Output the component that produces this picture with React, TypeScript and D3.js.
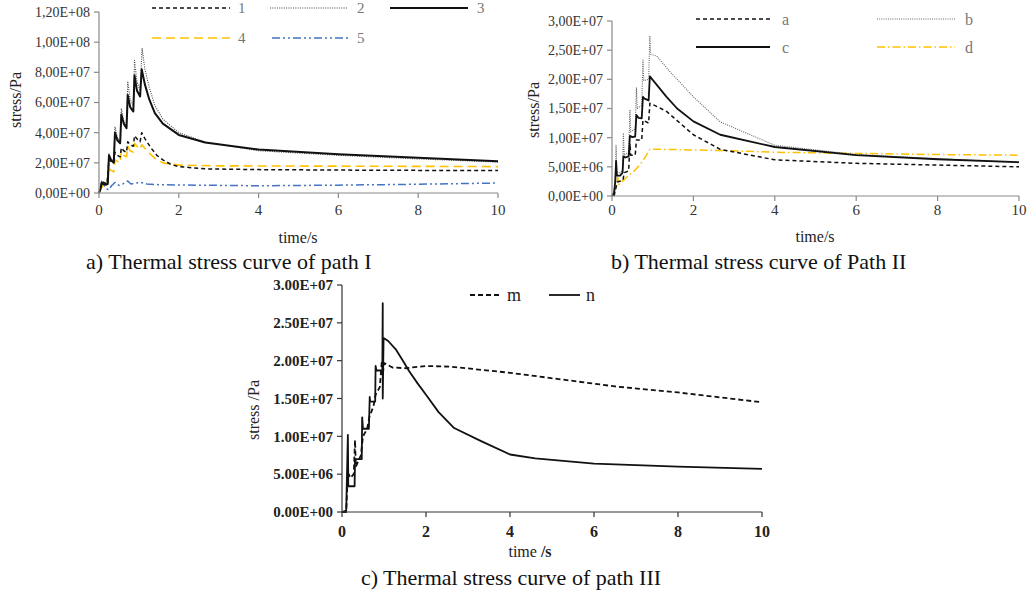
import React from "react";
import * as d3 from "d3";

type P = [number, number];

// ---------- Panel a data (path I) ----------
const aS1: P[] = [[0,0],[0.05,4e6],[0.07,8e6],[0.12,7e6],[0.2,6e6],[0.25,22e6],[0.3,21e6],[0.37,20e6],[0.4,27e6],[0.46,25e6],[0.53,24e6],[0.56,30e6],[0.62,28e6],[0.69,27e6],[0.72,34e6],[0.78,32e6],[0.86,31e6],[0.89,38e6],[0.95,36e6],[1.03,34e6],[1.07,40e6],[1.15,36e6],[1.3,30e6],[1.45,25e6],[1.6,22e6],[1.8,19e6],[2,17.5e6],[2.66,16e6],[4,15.5e6],[6,15.2e6],[8,15e6],[10,15e6]];
const aS2: P[] = [[0,0],[0.04,3e6],[0.07,8e6],[0.1,6.5e6],[0.2,6e6],[0.25,26e6],[0.3,23e6],[0.37,21e6],[0.4,44e6],[0.46,37e6],[0.53,34e6],[0.56,56e6],[0.62,48e6],[0.69,45e6],[0.72,74e6],[0.78,62e6],[0.86,58e6],[0.89,88e6],[0.95,74e6],[1.03,68e6],[1.08,96e6],[1.15,82e6],[1.26,70e6],[1.4,58e6],[1.6,49e6],[2,40e6],[2.66,33.8e6],[4,28e6],[6,25e6],[8,22.6e6],[10,20.5e6]];
const aS3: P[] = [[0,0],[0.04,3e6],[0.07,7e6],[0.1,6e6],[0.18,5.5e6],[0.22,6e6],[0.25,25e6],[0.3,22e6],[0.37,20e6],[0.4,40e6],[0.46,35e6],[0.53,33e6],[0.56,52e6],[0.62,46e6],[0.69,43e6],[0.72,65e6],[0.78,57e6],[0.86,54e6],[0.89,78e6],[0.95,68e6],[1.03,64e6],[1.07,82e6],[1.15,72e6],[1.26,62e6],[1.4,53e6],[1.6,46e6],[2,38.5e6],[2.66,33.5e6],[4,28.8e6],[6,25.7e6],[8,23.3e6],[10,21e6]];
const aS4: P[] = [[0,0],[0.05,3e6],[0.1,5e6],[0.2,5e6],[0.25,16e6],[0.3,15e6],[0.37,14e6],[0.4,22e6],[0.46,21e6],[0.53,20e6],[0.56,28e6],[0.62,25e6],[0.69,24e6],[0.72,31e6],[0.78,28e6],[0.86,27e6],[0.89,33e6],[0.95,31e6],[1.03,29e6],[1.07,32e6],[1.2,28e6],[1.4,23e6],[1.6,20e6],[2,18.5e6],[3,18e6],[6,17.8e6],[10,17.5e6]];
const aS5: P[] = [[0,0],[0.05,3e6],[0.1,6e6],[0.18,3e6],[0.25,2e6],[0.32,5e6],[0.4,7e6],[0.5,5e6],[0.6,6e6],[0.72,8e6],[0.8,6e6],[0.9,6.5e6],[1.05,7e6],[1.2,6e6],[1.5,5.5e6],[2,5.3e6],[4,4.8e6],[6,5.2e6],[8,5.8e6],[10,6.6e6]];
const aYTicks = [0, 2e7, 4e7, 6e7, 8e7, 1e8, 1.2e8];
const xTicks = [0, 2, 4, 6, 8, 10];

// ---------- Panel b data (path II) ----------
const bA: P[] = [[0.05,0],[0.1,1.5e6],[0.13,2.4e6],[0.27,2.7e6],[0.3,4e6],[0.41,4.3e6],[0.44,9e6],[0.46,7e6],[0.57,7e6],[0.6,9.6e6],[0.73,9.6e6],[0.76,13e6],[0.9,12.5e6],[0.93,15.9e6],[1.06,15.5e6],[1.34,14.5e6],[2,10.5e6],[2.66,8e6],[4,6.2e6],[6,5.6e6],[8,5.3e6],[10,5e6]];
const bB: P[] = [[0,0],[0.05,0.5e6],[0.08,2.5e6],[0.1,8.7e6],[0.12,4e6],[0.2,4e6],[0.26,4.5e6],[0.28,10.8e6],[0.3,7e6],[0.41,7.5e6],[0.44,14.7e6],[0.46,11e6],[0.57,11.5e6],[0.6,18.6e6],[0.62,15e6],[0.73,15.5e6],[0.76,23.3e6],[0.78,19.8e6],[0.9,20e6],[0.93,27.5e6],[0.95,24.3e6],[1.1,24e6],[1.4,21.5e6],[2,17e6],[2.66,12.7e6],[4,8.7e6],[6,7.1e6],[8,6.4e6],[10,5.7e6]];
const bC: P[] = [[0,0],[0.05,0.5e6],[0.08,2.5e6],[0.1,6e6],[0.12,3.5e6],[0.2,3.5e6],[0.26,4e6],[0.28,6.8e6],[0.33,6.6e6],[0.41,6.8e6],[0.44,10.3e6],[0.5,10.1e6],[0.57,10.2e6],[0.6,13.9e6],[0.65,13.4e6],[0.73,13.3e6],[0.76,17e6],[0.8,16.7e6],[0.9,16.4e6],[0.93,20.5e6],[1.06,19.4e6],[1.34,17e6],[1.6,15e6],[2,12.8e6],[2.66,10.5e6],[4,8.4e6],[6,7e6],[8,6.3e6],[10,5.8e6]];
const bD: P[] = [[0,0],[0.05,0.3e6],[0.1,1.5e6],[0.14,3.2e6],[0.17,2e6],[0.25,2.5e6],[0.3,2.8e6],[0.4,3.5e6],[0.55,4.3e6],[0.7,5.5e6],[0.8,6.5e6],[0.93,8e6],[1.2,8e6],[2,7.9e6],[2.66,7.8e6],[4,7.5e6],[6,7.3e6],[8,7.1e6],[10,7e6]];
const bYTicks = [0, 5e6, 1e7, 1.5e7, 2e7, 2.5e7, 3e7];

// ---------- Panel c data (path III) ----------
const cM: P[] = [[0,0],[0.1,0],[0.13,4e6],[0.16,5e6],[0.2,4.5e6],[0.28,5e6],[0.31,9.5e6],[0.33,6e6],[0.45,7.5e6],[0.5,10e6],[0.6,11e6],[0.65,12.5e6],[0.75,14e6],[0.8,15.5e6],[0.9,16.5e6],[0.95,20e6],[0.97,18e6],[1.0,19.7e6],[1.2,19.1e6],[1.5,19e6],[2,19.3e6],[2.6,19.2e6],[4,18.4e6],[6.5,16.6e6],[8,15.8e6],[10,14.5e6]];
const cN: P[] = [[0,0],[0.1,0.2e6],[0.14,10.2e6],[0.15,3.4e6],[0.3,3.4e6],[0.31,7e6],[0.47,7e6],[0.48,12.5e6],[0.5,11e6],[0.64,11e6],[0.66,15.2e6],[0.67,14.6e6],[0.79,14.6e6],[0.8,19.3e6],[0.82,18.7e6],[0.96,18.7e6],[0.97,27.6e6],[0.97,15e6],[0.99,23e6],[1.1,22.6e6],[1.28,21.5e6],[1.45,20e6],[1.6,18.6e6],[1.8,17e6],[2,15.5e6],[2.3,13.2e6],[2.67,11.1e6],[3.3,9.4e6],[4,7.6e6],[4.6,7.1e6],[6,6.4e6],[8,6e6],[10,5.7e6]];
const cYTicks = [0, 5e6, 1e7, 1.5e7, 2e7, 2.5e7, 3e7];

const FONT = "'Liberation Serif', 'Times New Roman', serif";

function fmtSci(v: number, sep: string) {
  const s = v.toExponential(2);
  const [m, e] = s.split("e");
  const sign = e[0] === "-" ? "-" : "+";
  const ex = Math.abs(parseInt(e, 10)).toString().padStart(2, "0");
  return m.replace(".", sep) + "E" + sign + ex;
}

interface Series {
  data: P[];
  color: string;
  width: number;
  dash?: string;
}
interface LegendItem {
  label: string;
  x1: number;
  x2: number;
  y: number;
  tx: number;
  s: Series;
}
interface PanelCfg {
  x0: number; x1: number; y0: number; y1: number;
  yMax: number; yTicks: number[];
  sep: string;
  series: Series[];
  axisColor: string;
  tickFont: number; tickBold: boolean; tickColor: string;
  tickLabelY: number;
  yLabel: string; yLabelX: number; yLabelY: number; yLabelSize: number;
  xLabel: React.ReactNode; xLabelX: number; xLabelY: number; xLabelSize: number;
  legend: LegendItem[]; legendColor: string; legendSize: number;
}

function Panel({ c }: { c: PanelCfg }) {
  const x = d3.scaleLinear().domain([0, 10]).range([c.x0, c.x1]);
  const y = d3.scaleLinear().domain([0, c.yMax]).range([c.y1, c.y0]);
  const line = d3.line<P>().x((d) => x(d[0])).y((d) => y(d[1]));
  return (
    <g fontFamily={FONT}>
      {c.series.map((s, i) => (
        <path key={i} d={line(s.data) || ""} fill="none" stroke={s.color} strokeWidth={s.width} strokeDasharray={s.dash} strokeLinejoin="round" />
      ))}
      <line x1={c.x0} x2={c.x0} y1={c.y0} y2={c.y1} stroke={c.axisColor} strokeWidth={1.2} />
      <line x1={c.x0} x2={c.x1} y1={c.y1} y2={c.y1} stroke={c.axisColor} strokeWidth={1.2} />
      {c.yTicks.map((t) => (
        <g key={"y" + t}>
          <line x1={c.x0 - 5} x2={c.x0} y1={y(t)} y2={y(t)} stroke={c.axisColor} strokeWidth={1.2} />
          <text x={c.x0 - 9} y={y(t)} dy="0.35em" textAnchor="end" fontSize={c.tickFont} fontWeight={c.tickBold ? "bold" : "normal"} fill={c.tickColor}>
            {fmtSci(t, c.sep)}
          </text>
        </g>
      ))}
      {xTicks.map((t) => (
        <g key={"x" + t}>
          <line x1={x(t)} x2={x(t)} y1={c.y1} y2={c.y1 + 5} stroke={c.axisColor} strokeWidth={1.2} />
          <text x={x(t)} y={c.tickLabelY} dy="0.35em" textAnchor="middle" fontSize={c.tickFont + 1} fontWeight={c.tickBold ? "bold" : "normal"} fill={c.tickColor}>
            {t}
          </text>
        </g>
      ))}
      <text transform={`translate(${c.yLabelX},${c.yLabelY}) rotate(-90)`} textAnchor="middle" dy="0.35em" fontSize={c.yLabelSize} fill="#222">
        {c.yLabel}
      </text>
      <text x={c.xLabelX} y={c.xLabelY} dy="0.35em" textAnchor="middle" fontSize={c.xLabelSize} fill="#222">
        {c.xLabel}
      </text>
      {c.legend.map((l) => (
        <g key={"l" + l.label}>
          <line x1={l.x1} x2={l.x2} y1={l.y} y2={l.y} stroke={l.s.color} strokeWidth={l.s.width} strokeDasharray={l.s.dash} />
          <text x={l.tx} y={l.y} dy="0.35em" fontSize={c.legendSize} fill={c.legendColor}>{l.label}</text>
        </g>
      ))}
    </g>
  );
}

const YEL = "#FFC000";
const BLU = "#4472C4";

export default function App() {
  const a1: Series = { data: aS1, color: "#111", width: 1.5, dash: "4,3" };
  const a2: Series = { data: aS2, color: "#444", width: 1.1, dash: "1,1.3" };
  const a3: Series = { data: aS3, color: "#111", width: 2, dash: undefined };
  const a4: Series = { data: aS4, color: YEL, width: 1.6, dash: "9,5" };
  const a5: Series = { data: aS5, color: BLU, width: 1.5, dash: "8,3,2,3,2,3" };
  const pa: PanelCfg = {
    x0: 99, x1: 498, y0: 12, y1: 193, yMax: 1.2e8, yTicks: aYTicks, sep: ",",
    series: [a5, a4, a1, a2, a3], axisColor: "#8a8a8a",
    tickFont: 14, tickBold: false, tickColor: "#333", tickLabelY: 210,
    yLabel: "stress/Pa", yLabelX: 15, yLabelY: 100, yLabelSize: 16,
    xLabel: "time/s", xLabelX: 298, xLabelY: 237, xLabelSize: 16,
    legend: [
      { label: "1", x1: 152, x2: 230, y: 8, tx: 238, s: a1 },
      { label: "2", x1: 270, x2: 348, y: 8, tx: 357, s: a2 },
      { label: "3", x1: 390, x2: 468, y: 8, tx: 477, s: a3 },
      { label: "4", x1: 152, x2: 230, y: 38, tx: 238, s: a4 },
      { label: "5", x1: 272, x2: 350, y: 38, tx: 357, s: a5 },
    ],
    legendColor: "#777", legendSize: 15,
  };
  const b1: Series = { data: bA, color: "#111", width: 1.5, dash: "4,3" };
  const b2: Series = { data: bB, color: "#666", width: 1.1, dash: "1,1.2" };
  const b3: Series = { data: bC, color: "#111", width: 1.8, dash: undefined };
  const b4: Series = { data: bD, color: YEL, width: 1.5, dash: "8,3,1.5,3" };
  const pb: PanelCfg = {
    x0: 612, x1: 1019, y0: 21, y1: 196, yMax: 3e7, yTicks: bYTicks, sep: ",",
    series: [b4, b1, b2, b3], axisColor: "#8a8a8a",
    tickFont: 14, tickBold: false, tickColor: "#333", tickLabelY: 210,
    yLabel: "stress/Pa", yLabelX: 533, yLabelY: 110, yLabelSize: 16,
    xLabel: "time/s", xLabelX: 815, xLabelY: 236, xLabelSize: 16,
    legend: [
      { label: "a", x1: 696, x2: 770, y: 19, tx: 782, s: b1 },
      { label: "b", x1: 877, x2: 955, y: 19, tx: 965, s: b2 },
      { label: "c", x1: 696, x2: 770, y: 47, tx: 782, s: b3 },
      { label: "d", x1: 877, x2: 955, y: 47, tx: 965, s: b4 },
    ],
    legendColor: "#777", legendSize: 16,
  };
  const c1: Series = { data: cM, color: "#111", width: 1.8, dash: "5,3" };
  const c2: Series = { data: cN, color: "#111", width: 1.8, dash: undefined };
  const pc: PanelCfg = {
    x0: 342, x1: 762, y0: 285, y1: 512, yMax: 3e7, yTicks: cYTicks, sep: ".",
    series: [c1, c2], axisColor: "#333",
    tickFont: 15, tickBold: true, tickColor: "#222", tickLabelY: 531,
    yLabel: "stress /Pa", yLabelX: 253, yLabelY: 410, yLabelSize: 16,
    xLabel: (<tspan>time <tspan fontWeight="bold">/s</tspan></tspan>), xLabelX: 530, xLabelY: 551, xLabelSize: 16,
    legend: [
      { label: "m", x1: 470, x2: 502, y: 295, tx: 507, s: c1 },
      { label: "n", x1: 549, x2: 580, y: 295, tx: 586, s: c2 },
    ],
    legendColor: "#222", legendSize: 18,
  };
  return (
    <svg width={1034} height={593} style={{ position: "absolute", left: 0, top: 0, background: "#fff" }}>
      <rect width={1034} height={593} fill="#fff" />
      <Panel c={pa} />
      <Panel c={pb} />
      <Panel c={pc} />
      <g fontFamily={FONT} fontSize={22} fill="#111">
        <text x={86} y={261} dy="0.35em">a) Thermal stress curve of path I</text>
        <text x={611} y={261} dy="0.35em">b) Thermal stress curve of Path II</text>
        <text x={511} y={577} dy="0.35em" textAnchor="middle">c) Thermal stress curve of path III</text>
      </g>
    </svg>
  );
}
